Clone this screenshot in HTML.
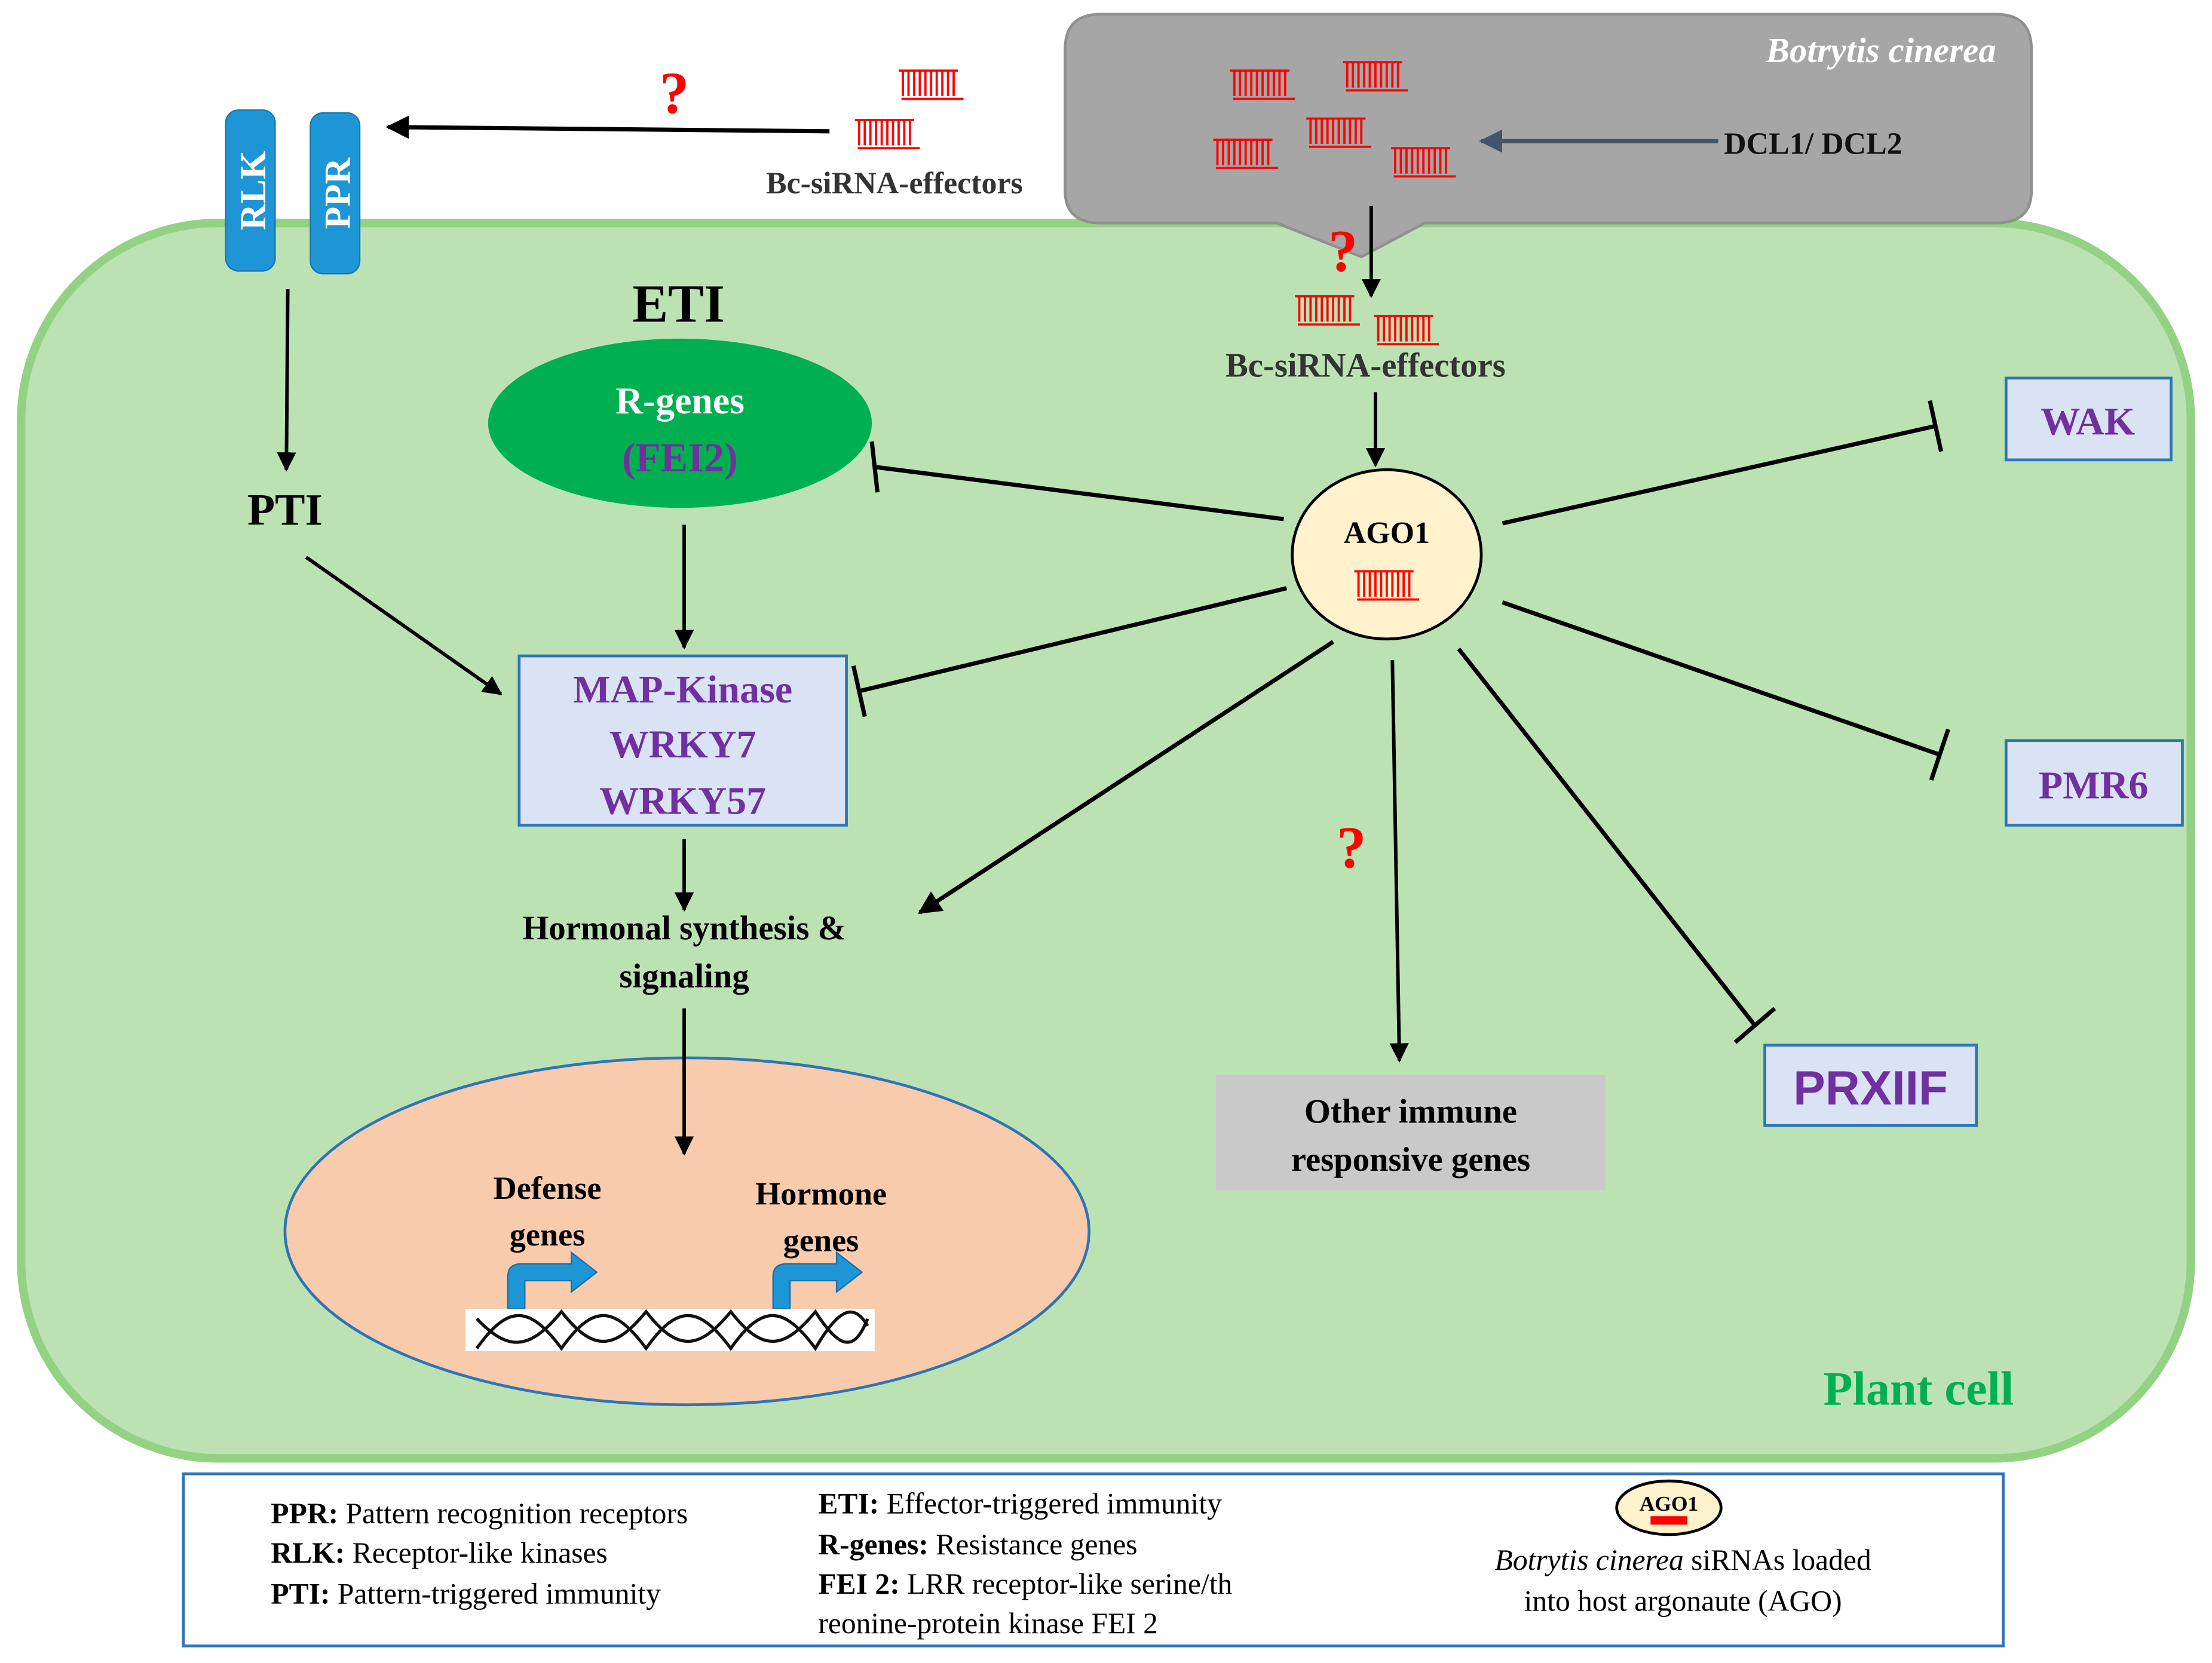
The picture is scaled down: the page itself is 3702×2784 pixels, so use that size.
<!DOCTYPE html>
<html><head><meta charset="utf-8"><style>
html,body{margin:0;padding:0;background:#fff}
svg{display:block}
text{font-family:"Liberation Serif",serif}
</style></head><body>
<svg width="3702" height="2784" viewBox="0 0 1568 1179" xmlns="http://www.w3.org/2000/svg">
<defs>
<symbol id="si" viewBox="0 0 48 24" overflow="visible">
<g stroke="#f00" stroke-width="1.6" fill="none">
<line x1="2" y1="2" x2="44" y2="2"/><line x1="4" y1="22" x2="48" y2="22"/>
<path d="M5 2V20M9 2V20M13 2V20M17 2V20M21 2V20M25 2V20M29 2V20M33 2V20M37 2V20M41 2V20"/>
</g></symbol>
<marker id="ar" viewBox="0 0 10 10" refX="9" refY="5" markerWidth="5.5" markerHeight="5.5" orient="auto"><path d="M0 0L10 5L0 10z" fill="#000"/></marker>
<marker id="arb" viewBox="0 0 10 10" refX="9" refY="5" markerWidth="5.5" markerHeight="5.5" orient="auto"><path d="M0 0L10 5L0 10z" fill="#44546a"/></marker>
</defs>
<rect width="1568" height="1179" fill="#fff"/>
<g font-weight="bold">
<rect x="15" y="158" width="1538" height="876" rx="140" fill="#bce2b4" stroke="#93d283" stroke-width="6"/>
<path d="M780 10H1415Q1440 10 1440 35V135Q1440 158 1415 158H1010L965 182L905 158H780Q755 158 755 135V35Q755 10 780 10Z" fill="#a6a6a6" stroke="#909090" stroke-width="2"/>
<text x="1415" y="44" text-anchor="end" font-size="25" font-style="italic" fill="#fff">Botrytis cinerea</text>
<use href="#si" x="870" y="48" width="48" height="24"/>
<use href="#si" x="950" y="42" width="48" height="24"/>
<use href="#si" x="924" y="82" width="48" height="24"/>
<use href="#si" x="858" y="97" width="48" height="24"/>
<use href="#si" x="984" y="103" width="48" height="24"/>
<line x1="1218" y1="100" x2="1050" y2="100" stroke="#44546a" stroke-width="3" marker-end="url(#arb)"/>
<text x="1222" y="109" font-size="22" fill="#111">DCL1/ DCL2</text>
<line x1="972" y1="146" x2="972" y2="210" stroke="#000" stroke-width="2.5" marker-end="url(#ar)"/>
<text x="952" y="192" font-size="42" fill="#f00" text-anchor="middle">?</text>
<use href="#si" x="916" y="208" width="48" height="24"/>
<use href="#si" x="972" y="222" width="48" height="24"/>
<text x="968" y="267" font-size="24" fill="#333" text-anchor="middle">Bc-siRNA-effectors</text>
<line x1="975" y1="278" x2="975" y2="330" stroke="#000" stroke-width="2.5" marker-end="url(#ar)"/>
<rect x="160" y="78" width="35" height="114" rx="9" fill="#1e96d6" stroke="#1878b0"/>
<rect x="220" y="80" width="35" height="114" rx="9" fill="#1e96d6" stroke="#1878b0"/>
<text transform="translate(188,135) rotate(-90)" text-anchor="middle" font-size="26" fill="#fff">RLK</text>
<text transform="translate(248,137) rotate(-90)" text-anchor="middle" font-size="26" fill="#fff">PPR</text>
<line x1="588" y1="93" x2="275" y2="90" stroke="#000" stroke-width="3" marker-end="url(#ar)"/>
<text x="478" y="80" font-size="42" fill="#f00" text-anchor="middle">?</text>
<use href="#si" x="635" y="48" width="48" height="24"/>
<use href="#si" x="604" y="83" width="48" height="24"/>
<text x="634" y="137" font-size="22" fill="#333" text-anchor="middle">Bc-siRNA-effectors</text>
<line x1="204" y1="205" x2="203" y2="333" stroke="#000" stroke-width="2.5" marker-end="url(#ar)"/>
<text x="202" y="372" font-size="32" text-anchor="middle">PTI</text>
<text x="481" y="228" font-size="38" text-anchor="middle">ETI</text>
<ellipse cx="482" cy="300" rx="136" ry="60" fill="#00b050"/>
<text x="482" y="293" font-size="27" fill="#fff" text-anchor="middle">R-genes</text>
<text x="482" y="334" font-size="29" fill="#7030a0" text-anchor="middle">(FEI2)</text>
<line x1="485" y1="372" x2="485" y2="459" stroke="#000" stroke-width="2.5" marker-end="url(#ar)"/>
<line x1="217" y1="395" x2="355" y2="492" stroke="#000" stroke-width="2.5" marker-end="url(#ar)"/>
<rect x="368" y="465" width="232" height="120" fill="#dae3f3" stroke="#2e75b6" stroke-width="2"/>
<text x="484" y="498" font-size="28" fill="#7030a0" text-anchor="middle">MAP-Kinase</text>
<text x="484" y="537" font-size="28" fill="#7030a0" text-anchor="middle">WRKY7</text>
<text x="484" y="577" font-size="28" fill="#7030a0" text-anchor="middle">WRKY57</text>
<line x1="485" y1="595" x2="485" y2="645" stroke="#000" stroke-width="2.5" marker-end="url(#ar)"/>
<text x="485" y="666" font-size="24" text-anchor="middle">Hormonal synthesis &amp;</text>
<text x="485" y="700" font-size="24" text-anchor="middle">signaling</text>
<ellipse cx="487" cy="873" rx="285" ry="123" fill="#f8cbad" stroke="#2e75b6" stroke-width="2"/>
<line x1="485" y1="715" x2="485" y2="818" stroke="#000" stroke-width="2.5" marker-end="url(#ar)"/>
<text x="388" y="850" font-size="23" text-anchor="middle">Defense</text>
<text x="388" y="883" font-size="23" text-anchor="middle">genes</text>
<text x="582" y="854" font-size="23" text-anchor="middle">Hormone</text>
<text x="582" y="887" font-size="23" text-anchor="middle">genes</text>
<g fill="#1e96d6" stroke="#1a6fa8" stroke-width="1">
<path d="M360 928V905Q360 896 370 896H405V888L423 902L405 916V908H372V928Z"/>
<path d="M548 928V905Q548 896 558 896H593V888L611 902L593 916V908H560V928Z"/>
</g>
<rect x="330" y="928" width="290" height="30" fill="#fff"/>
<g stroke="#111" stroke-width="2.2" fill="none">
<path d="M338 956C360 925 375 925 398 956C420 925 435 925 458 956C480 925 495 925 518 956C540 925 555 925 578 956C596 925 606 925 615 940"/>
<path d="M338 935C360 958 375 958 398 930C420 958 435 958 458 930C480 958 495 958 518 930C540 958 555 958 578 930C596 958 606 958 615 935"/>
</g>
<g stroke="#000" stroke-width="3" fill="none">
<line x1="910" y1="368" x2="620" y2="331"/><line x1="618" y1="313" x2="622" y2="349"/>
<line x1="912" y1="417" x2="609" y2="490"/><line x1="605" y1="472" x2="613" y2="508"/>
<line x1="1065" y1="371" x2="1372" y2="302"/><line x1="1368" y1="284" x2="1376" y2="320"/>
<line x1="1065" y1="427" x2="1375" y2="535"/><line x1="1381" y1="517" x2="1369" y2="553"/>
<line x1="1034" y1="460" x2="1244" y2="727"/><line x1="1230" y1="739" x2="1258" y2="715"/>
</g>
<line x1="945" y1="455" x2="652" y2="647" stroke="#000" stroke-width="3" marker-end="url(#ar)"/>
<line x1="987" y1="468" x2="992" y2="752" stroke="#000" stroke-width="2.5" marker-end="url(#ar)"/>
<text x="958" y="615" font-size="42" fill="#f00" text-anchor="middle">?</text>
<ellipse cx="983" cy="393" rx="67" ry="60" fill="#fff2cc" stroke="#000" stroke-width="2"/>
<text x="983" y="385" font-size="22" text-anchor="middle">AGO1</text>
<use href="#si" x="958" y="403" width="48" height="24"/>
<rect x="1422" y="268" width="117" height="58" fill="#dae3f3" stroke="#2e75b6" stroke-width="2"/>
<text x="1480" y="308" font-size="28" fill="#7030a0" text-anchor="middle">WAK</text>
<rect x="1422" y="525" width="125" height="60" fill="#dae3f3" stroke="#2e75b6" stroke-width="2"/>
<text x="1484" y="566" font-size="28" fill="#7030a0" text-anchor="middle">PMR6</text>
<rect x="1251" y="741" width="150" height="57" fill="#dae3f3" stroke="#2e75b6" stroke-width="2"/>
<text x="1326" y="783" font-size="34" fill="#7030a0" text-anchor="middle" style="font-family:'Liberation Sans',sans-serif">PRXIIF</text>
<rect x="862" y="762" width="276" height="82" fill="#c9c9c9"/>
<text x="1000" y="796" font-size="24" text-anchor="middle">Other immune</text>
<text x="1000" y="830" font-size="24" text-anchor="middle">responsive genes</text>
<text x="1360" y="996" font-size="34" fill="#00b050" text-anchor="middle">Plant cell</text>
</g>
<rect x="130" y="1045" width="1290" height="122" fill="#fff" stroke="#2e75b6" stroke-width="2"/>
<g font-size="21" font-weight="normal">
<text x="192" y="1080"><tspan font-weight="bold">PPR:</tspan> Pattern recognition receptors</text>
<text x="192" y="1108"><tspan font-weight="bold">RLK:</tspan> Receptor-like kinases</text>
<text x="192" y="1137"><tspan font-weight="bold">PTI:</tspan> Pattern-triggered immunity</text>
<text x="580" y="1073"><tspan font-weight="bold">ETI:</tspan> Effector-triggered immunity</text>
<text x="580" y="1102"><tspan font-weight="bold">R-genes:</tspan> Resistance genes</text>
<text x="580" y="1130"><tspan font-weight="bold">FEI 2:</tspan> LRR receptor-like serine/th</text>
<text x="580" y="1158">reonine-protein kinase FEI 2</text>
<text x="1193" y="1113" text-anchor="middle"><tspan font-style="italic">Botrytis cinerea</tspan> siRNAs loaded</text>
<text x="1193" y="1142" text-anchor="middle">into host argonaute (AGO)</text>
</g>
<ellipse cx="1183" cy="1069" rx="37" ry="19" fill="#fff2cc" stroke="#000" stroke-width="2"/>
<text x="1183" y="1071" font-size="15" font-weight="bold" text-anchor="middle">AGO1</text>
<rect x="1170" y="1075" width="26" height="6" fill="#f00"/>
</svg>
</body></html>
